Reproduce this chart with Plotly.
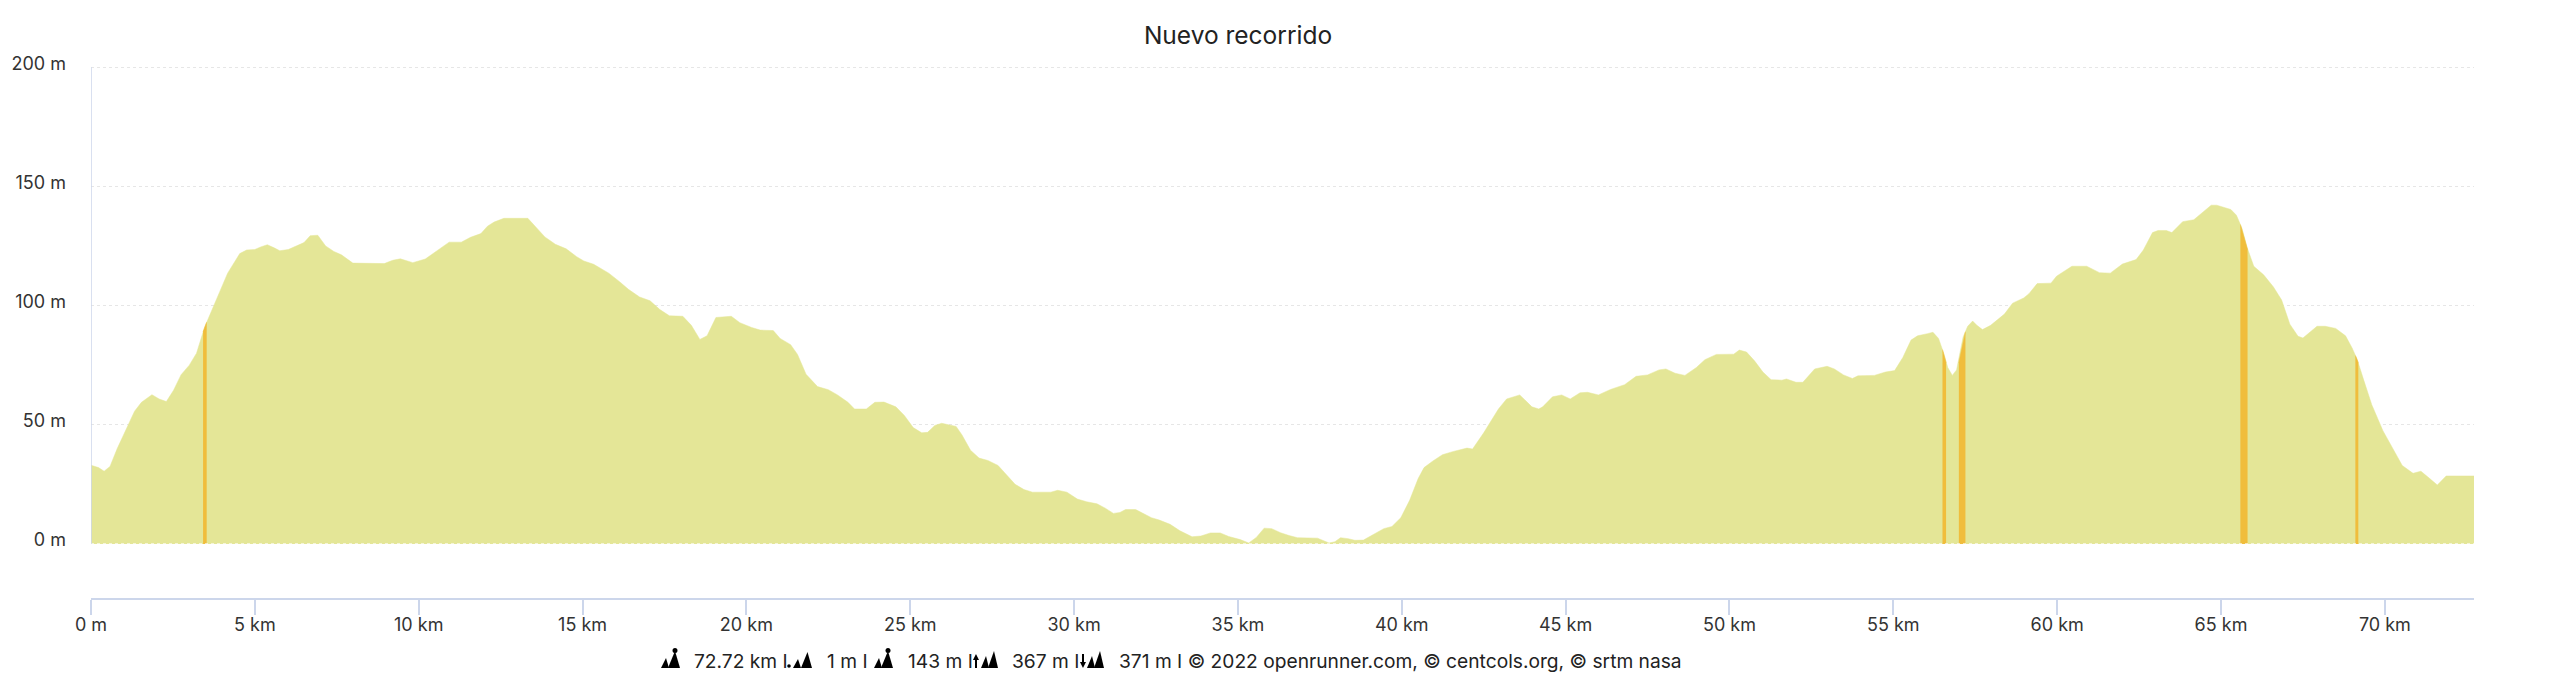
import plotly.graph_objects as go

# elevation profile (km, m)
dist_km = [0, 0.23, 0.4, 0.58, 0.8, 1.03, 1.33, 1.54, 1.86, 2.08, 2.3, 2.52, 2.75, 3, 3.22, 3.47, 3.7, 3.96, 4.17, 4.4,
           4.54, 4.75, 5.0, 5.18, 5.38, 5.59, 5.76, 6.02, 6.32, 6.5, 6.69, 6.92, 7.16, 7.41, 7.64, 7.99, 8.95, 9.21,
           9.44, 9.82, 10.2, 10.6, 10.93, 11.3, 11.58, 11.9, 12.1, 12.3, 12.6, 13.33, 13.6, 13.85, 14.17, 14.5, 14.82,
           15.04, 15.34, 15.6, 15.8, 16.13, 16.4, 16.74, 17.06, 17.36, 17.65, 18.06, 18.32, 18.58, 18.8, 19.07, 19.54,
           19.8, 20.16, 20.42, 20.82, 21.03, 21.35, 21.56, 21.82, 22.17, 22.5, 22.78, 23.1, 23.3, 23.66, 23.92, 24.2,
           24.56, 24.82, 25.09, 25.35, 25.53, 25.75, 25.96, 26.4, 26.58, 26.84, 27.1, 27.37, 27.68, 27.93, 28.2, 28.47,
           28.73, 29.29, 29.5, 29.78, 30.1, 30.38, 30.7, 30.95, 31.2, 31.4, 31.57, 31.88, 32.1, 32.36, 32.6, 32.93,
           33.23, 33.6, 33.87, 34.16, 34.46, 34.72, 35.07, 35.33, 35.56, 35.8, 36.03, 36.3, 36.56, 36.82, 37.43, 37.78,
           37.96, 38.13, 38.36, 38.57, 38.83, 39.1, 39.45, 39.7, 39.97, 40.24, 40.5, 40.68, 40.94, 41.24, 41.55, 41.99,
           42.16, 42.5, 42.95, 43.2, 43.6, 43.97, 44.18, 44.3, 44.6, 44.88, 45.14, 45.44, 45.67, 46, 46.37, 46.8,
           47.15, 47.5, 47.85, 48.06, 48.34, 48.64, 48.99, 49.25, 49.6, 50.13, 50.3, 50.52, 50.77, 51.02, 51.27, 51.6,
           51.74, 52.03, 52.24, 52.6, 52.98, 53.2, 53.48, 53.75, 53.92, 54.42, 54.76, 55.04, 55.29, 55.54, 55.74,
           56.04, 56.21, 56.38, 56.55, 56.66, 56.8, 56.93, 57.13, 57.27, 57.42, 57.55, 57.72, 57.97, 58.39, 58.64,
           58.98, 59.14, 59.39, 59.81, 59.98, 60.45, 60.9, 61.29, 61.62, 61.99, 62.41, 62.63, 62.91, 63.08, 63.33,
           63.5, 63.83, 64.17, 64.42, 64.7, 64.87, 65.3, 65.47, 65.64, 65.8, 66.0, 66.3, 66.6, 66.85, 67.1, 67.35,
           67.5, 67.93, 68.18, 68.5, 68.8, 69.0, 69.15, 69.36, 69.6, 69.94, 70.23, 70.53, 70.86, 71.1, 71.37, 71.6,
           71.87, 72.72]
elev_m = [33, 32, 30.5, 32.5, 40, 46.5, 55.7, 59.4, 62.6, 60.8, 59.7, 64.5, 71, 75, 80, 91, 98.6, 107, 113.6, 118.7,
          121.8, 123.3, 123.5, 124.6, 125.5, 124.2, 123, 123.5, 125.5, 126.4, 129.3, 129.5, 125, 122.7, 121.3, 117.8,
          117.6, 119, 119.6, 118, 119.5, 123.5, 126.6, 126.6, 128.6, 130.2, 133.3, 135, 136.6, 136.6, 132.4, 128.8,
          125.7, 123.8, 120.5, 118.7, 117.3, 115, 113.6, 110, 106.8, 103.6, 102, 98.3, 95.7, 95.5, 91.7, 85.8, 87.3,
          95, 95.5, 92.8, 90.8, 89.7, 89.5, 86.2, 83.6, 79.5, 71.2, 66, 64.7, 62.5, 59.4, 56.6, 56.6, 59.4, 59.5,
          57.5, 53.9, 48.8, 46.6, 46.8, 49.7, 50.6, 49.3, 45.7, 39.3, 36, 35, 32.9, 28.9, 25, 22.8,
          21.7, 21.7, 22.5, 21.7, 18.8, 17.7, 16.8, 15, 12.8, 13.2, 14.4, 14.4, 12.8, 11, 10, 8.2,
          5.5, 3, 3.3, 4.6, 4.6, 3.1, 1.8, 0.4, 2.7, 6.6, 6.4, 4.7, 3.5, 2.6, 2.4, 0.4,
          0.9, 2.6, 2.2, 1.5, 1.6, 3.7, 6.4, 7.3, 11, 18.3, 27.4, 32, 34.7, 37.4, 38.7, 40.2,
          39.8, 46.6, 56.6, 60.8, 62.5, 57.5, 56.6, 57.5, 61.7, 62.5, 60.8, 63.4, 63.6, 62.5, 64.8, 66.8,
          70.3, 70.9, 73, 73.4, 71.6, 70.7, 74, 77.3, 79.5, 79.6, 81.3, 80.5, 76.7, 72.1, 68.9, 68.7,
          69.2, 67.8, 67.8, 73.4, 74.5, 73.4, 70.9, 69.4, 70.5, 70.7, 72.1, 72.7, 78.2, 85.5, 87.3,
          88.2, 88.8, 86.2, 79.5, 74, 70.7, 73, 86.8, 91.3, 93.5, 91.7, 89.9, 91.7, 96.4, 101,
          103.2, 105, 109.2, 109.4, 112.3, 116.5, 116.5, 113.8, 113.6, 117.4, 119.3, 123.3, 130.6, 131.5, 131.5,
          130.6, 135.2, 136, 138.8, 142.1, 142.1, 140.3, 137.9, 132.4, 124.2, 116.5, 112.9, 107.8, 102.3, 92.2, 87.1,
          86.4, 91.3, 91.3, 90.4, 87.3, 82.2, 77.6, 68.5, 58.4, 47.5, 40.2, 32.9, 29.6, 30.5, 27.4, 24.7,
          28.5, 28.5]

# steep sections drawn in orange
steep_a_x, steep_a_y = [3.42, 3.53], [89, 93]
steep_b_x, steep_b_y = [56.5, 56.61], [81.5, 76]
steep_c_x, steep_c_y = [57.0, 57.2], [76, 89]
steep_d_x, steep_d_y = [65.59, 65.81], [134, 123.5]
steep_e_x, steep_e_y = [69.1, 69.19], [79, 76]

x_ticks = [0, 5, 10, 15, 20, 25, 30, 35, 40, 45, 50, 55, 60, 65, 70]
x_labels = ['0 m', '5 km', '10 km', '15 km', '20 km', '25 km', '30 km', '35 km', '40 km', '45 km', '50 km', '55 km',
            '60 km', '65 km', '70 km']
y_ticks = [0, 50, 100, 150, 200]
y_labels = ['0 m', '50 m', '100 m', '150 m', '200 m']

FONT = 'Inter, sans-serif'
FILL = '#e4e697'
ORANGE = '#f0bd3c'
AXIS = '#ccd6eb'
L, R, T, B = 91, 2474, 66.3, 598
PAGE = 8  # default body margin of the written page


def px_x(p):
    return (p - L) / (R - L)


def px_y(p):
    return (B - p) / (B - T)


def poly(points):
    d = ' '.join(('M' if i == 0 else 'L') + f'{px_x(x):.5f},{px_y(y):.5f}' for i, (x, y) in enumerate(points))
    return dict(type='path', xref='paper', yref='paper', path=d + ' Z', fillcolor='black', line_width=0)


def dot(x, y, r):
    return dict(type='circle', xref='paper', yref='paper', x0=px_x(x - r), x1=px_x(x + r), y0=px_y(y + r),
                y1=px_y(y - r), fillcolor='black', line_width=0)


def peaks(x, small=(1, 9, 10), big=(8, 20, 17)):
    # two little mountains standing on the footer baseline
    base = 668
    return [poly([(x + small[0], base), (x + (small[0] + small[1]) / 2 + 1, base - small[2]), (x + small[1], base)]),
            poly([(x + big[0], base), (x + (big[0] + big[1]) / 2 + 1, base - big[2]), (x + big[1], base)])]


fig = go.Figure()
fig.add_trace(go.Scatter(x=dist_km, y=elev_m, mode='lines', fill='tozeroy', fillcolor=FILL,
                         line=dict(color=FILL, width=0.5), hoverinfo='skip'))
for sx, sy in [(steep_a_x, steep_a_y), (steep_b_x, steep_b_y), (steep_c_x, steep_c_y), (steep_d_x, steep_d_y),
               (steep_e_x, steep_e_y)]:
    fig.add_trace(go.Scatter(x=sx, y=sy, mode='lines', fill='tozeroy', fillcolor=ORANGE,
                             line=dict(color=ORANGE, width=0.5), hoverinfo='skip'))
# the zero gridline shows as white dots on the edge of the fill
fig.add_trace(go.Scatter(x=[0, 72.72], y=[0, 0], mode='lines', line=dict(color='white', width=1, dash='dot'),
                         hoverinfo='skip'))

shapes = [dict(type='line', xref='x', yref='y', x0=0, x1=0, y0=0, y1=200, line=dict(color=AXIS, width=1.5))]
shapes += peaks(660) + [dot(675, 650.5, 2.5)]
shapes += peaks(787, small=(6, 14, 9), big=(14, 25, 16)) + [dot(789, 666, 1.8)]
shapes += peaks(873) + [dot(888, 650.5, 2.5)]
shapes += peaks(980, small=(1, 9, 12), big=(8, 18, 17))
shapes += [poly([(973, 660), (976, 654), (979, 660), (977, 660), (977, 668), (975, 668), (975, 660)])]
shapes += peaks(1086, small=(1, 9, 12), big=(8, 18, 17))
shapes += [poly([(1080, 662), (1083, 668), (1086, 662), (1084, 662), (1084, 654), (1082, 654), (1082, 662)])]

footer = [(692, '72.72 km I'), (825, '1 m I'), (906, '143 m I'), (1010, '367 m I'),
          (1117, '371 m I © 2022 openrunner.com, © centcols.org, © srtm nasa')]
annotations = [dict(xref='paper', yref='paper', x=px_x(x), y=px_y(661), xanchor='left', yanchor='middle',
                    text=t, showarrow=False, font=dict(family=FONT, size=19.2, color='#222222')) for x, t in footer]

fig.update_layout(
    width=2560 - PAGE,
    height=683 - PAGE,
    margin=dict(l=L - PAGE, r=2560 - R, t=T - PAGE, b=683 - B, autoexpand=False),
    paper_bgcolor='white',
    plot_bgcolor='white',
    showlegend=False,
    title=dict(text='Nuevo recorrido', x=(1238 - PAGE) / (2560 - PAGE), xanchor='center',
               y=1 - (35 - PAGE) / (683 - PAGE), yanchor='middle',
               font=dict(family=FONT, size=24.5, color='#222222')),
    xaxis=dict(range=[0, 72.72], tickvals=x_ticks, ticktext=x_labels, showgrid=False, zeroline=False, showline=True,
               linecolor=AXIS, linewidth=1.5, ticks='outside', ticklen=15, tickcolor=AXIS, tickwidth=1.5,
               ticklabelstandoff=-5, tickfont=dict(family=FONT, size=18, color='#333333')),
    yaxis=dict(range=[-22.7, 200.5], tickvals=y_ticks, ticktext=y_labels, showgrid=True, gridcolor='#e6e6e6',
               griddash='dot', gridwidth=1, zeroline=False, showline=False, ticks='', ticklabelstandoff=24,
               ticklabelshift=-4, tickfont=dict(family=FONT, size=18, color='#333333')),
    shapes=shapes,
    annotations=annotations,
)

fig.write_html("out.html")
